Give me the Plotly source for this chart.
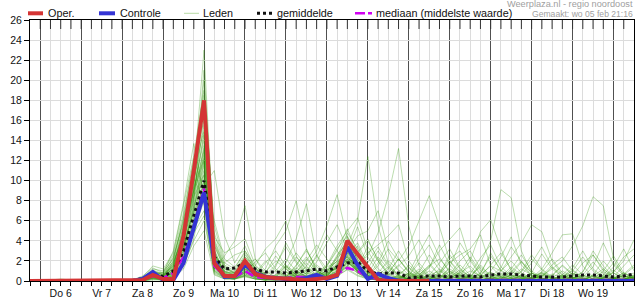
import plotly.graph_objects as go
import pandas as pd

# ---------------- data ----------------
start = pd.Timestamp('2025-02-05 18:00')
times = pd.date_range(start, periods=60, freq='6h')
x_range = ['2025-02-05 18:00', '2025-02-20 12:00']

day_labels = ['Do 6', 'Vr 7', 'Za 8', 'Zo 9', 'Ma 10', 'Di 11', 'Wo 12',
              'Do 13', 'Vr 14', 'Za 15', 'Zo 16', 'Ma 17', 'Di 18', 'Wo 19']
label_times = pd.date_range('2025-02-06 12:00', periods=14, freq='D')
day_lines = pd.date_range('2025-02-06 00:00', periods=15, freq='D')
y_ticks = list(range(0, 27, 2))

oper = [0, 0, 0.1, 0.1, 0.1, 0.1, 0, 0, 0, 0,
        0.05, 0.1, 0.6, 0.2, 0.2, 4.5, 11.0, 18.0, 1.8, 0.5,
        0.5, 2.0, 0.7, 0.4, 0.3, 0.2, 0.2, 0.1, 0.2, 0.3,
        0.6, 4.0, 2.7, 1.4, 0.1, 0, 0, 0, 0, 0]

controle = [0, 0, 0.1, 0.1, 0.1, 0, 0, 0, 0, 0,
            0, 0.2, 0.9, 0.1, 0.1, 1.8, 5.2, 8.8, 2.0, 0.4,
            0.5, 1.6, 0.8, 0.4, 0.3, 0.2, 0.1, 0.3, 0.6, 0.2,
            0.5, 3.4, 1.6, 0.2, 0.7, 0.3, 0, 0, 0, 0,
            0, 0, 0, 0, 0, 0, 0, 0, 0, 0,
            0, 0, 0, 0, 0, 0, 0, 0, 0, 0]

gemiddelde = [0, 0, 0.05, 0.05, 0.05, 0.02, 0, 0, 0, 0,
              0.05, 0.25, 0.65, 0.45, 1.0, 3.0, 6.5, 10.0, 2.4, 1.2,
              1.3, 1.8, 1.2, 0.9, 0.9, 0.8, 0.9, 1.0, 1.2, 1.0,
              1.4, 1.8, 1.9, 1.0, 0.7, 0.8, 0.8, 0.3, 0.4, 0.5,
              0.5, 0.4, 0.5, 0.5, 0.4, 0.6, 0.7, 0.7, 0.6, 0.5,
              0.4, 0.4, 0.4, 0.5, 0.6, 0.6, 0.5, 0.4, 0.5, 0.7]

mediaan = [0, 0, 0, 0, 0, 0, 0, 0, 0, 0,
           0, 0.1, 0.5, 0.3, 0.8, 2.4, 5.5, 9.2, 1.5, 0.5,
           0.4, 1.0, 0.4, 0.3, 0.2, 0.3, 0.4, 0.4, 0.5, 0.3,
           0.7, 1.3, 1.0, 0.4, 0.2, 0.1, 0.1, 0.1, 0.1, 0.1,
           0.1, 0.1, 0.1, 0.1, 0.1, 0.1, 0.1, 0.1, 0.1, 0.1,
           0.1, 0.1, 0.1, 0.1, 0.1, 0.1, 0.1, 0.1, 0.1, 0.1]

leden = [
    [0,0,0,0.1,0,0,0,0,0,0, 0,0.3,0.8,0.5,1.2,3.5,7.2,12.5,2.1,0.8, 0.5,1.2,0.6,0.3,0.2,0.4,1.5,3.2,1.1,0.4,
     0.8,2.5,1.2,0.5,0.3,0.2,0.1,0,0,0.3, 1.2,0.5,0.2,0,0,0.1,0.4,0.2,0,0, 0,0.2,0.6,0.3,0.1,0,0,0.2,0.5,0.3],
    [0,0,0,0,0,0,0,0,0,0, 0,0.1,0.4,0.2,0.8,4.5,10.5,23,3.5,1.2, 0.8,2.2,1.0,0.4,0.2,0.1,0.3,0.5,0.2,0.1,
     0.6,1.8,3.5,1.2,0.4,0.2,0.5,0.1,0,0, 0,0.3,0.8,1.5,0.4,0.1,0,0,0.2,0.1, 0,0,0.3,1.1,0.4,0,0,0.1,0,0],
    [0,0,0,0,0,0,0,0,0,0, 0.1,0.5,1.3,0.8,3.0,7.8,13.7,8.5,1.5,0.6, 0.4,1.0,0.5,0.8,2.5,1.2,0.4,0.2,0.6,1.5,
     3.2,4.5,2.0,0.8,0.3,0.1,0,0,0.2,0.5, 0.2,0,0,0.4,1.6,0.5,0.1,0,0,0.3, 0.8,0.2,0,0,0.1,0.5,1.2,0.4,0.1,0],
    [0,0,0,0,0,0,0,0,0,0, 0,0.1,0.3,0.2,0.4,1.5,4.2,9.5,11.0,4.5, 1.8,3.5,1.2,0.5,0.3,0.2,0.1,0.4,0.9,0.3,
     0.5,1.5,0.8,0.2,0.1,0,0,0.3,0.8,0.2, 0,0,0.1,0.5,0.2,0,0,0.2,0.6,0.3, 0.1,0,0,0,0.2,0.4,0.1,0,0,0.1],
    [0,0,0,0,0,0,0,0,0,0, 0,0.2,0.6,0.4,1.8,5.2,9.0,14.5,1.2,2.5, 4.0,7.5,2.2,0.6,0.3,0.5,0.2,0.1,0.4,0.8,
     1.2,2.8,1.5,0.4,0.1,0,0,0,0.2,0.6, 1.0,0.3,0,0,0,0.2,0.5,0.1,0,0, 0,0.1,0.3,0.8,0.2,0,0,0,0.3,0.2],
    [0,0,0,0,0,0,0,0,0,0, 0,0,0.2,0.1,0.6,2.8,6.5,11.0,2.8,0.5, 0.3,0.6,0.4,1.2,3.5,5.0,8.0,3.2,1.0,0.5,
     1.5,3.8,2.2,0.6,0.2,0.1,0.3,0.8,0.4,0.1, 0,0,0.2,0.6,0.3,0,0,0,0.1,0.4, 0.9,0.3,0.1,0,0,0,0.2,0.1,0,0],
    [0,0,0.1,0.2,0.1,0,0,0,0,0, 0,0.4,1.0,0.6,1.5,3.2,8.2,16.5,4.2,1.5, 0.8,1.5,0.5,0.2,0.6,1.8,4.2,7.7,2.5,0.8,
     0.4,1.8,0.9,0.3,0.1,0,0.2,0.5,1.8,0.6, 0.2,0,0,0,0.1,0.3,0.8,0.3,0.1,0, 0,0.2,0.5,0.2,0,0,0,0.3,0.8,0.4],
    [0,0,0,0,0,0,0,0,0,0, 0,0.1,0.5,0.9,2.2,6.0,11.5,7.5,1.0,0.3, 0.2,0.5,1.5,3.2,4.2,6.0,2.5,1.0,0.3,0.2,
     0.5,2.0,1.2,0.4,0.2,0.1,0,0,0,0.2, 0.6,0.2,0,0,0,0,0.3,1.0,0.3,0, 0,0,0,0.2,0.6,0.2,0,0,0,0.1],
    [0,0,0,0,0,0,0,0,0,0, 0,0,0.3,0.1,0.5,2.0,5.5,8.8,0.8,0.3, 0.2,0.9,0.4,0.2,0.1,0.3,0.6,1.5,3.0,5.5,
     8.6,4.2,1.5,0.5,0.2,0.1,0.3,0.1,0,0, 0.2,0.6,0.2,0,0,0,0,0.2,0.5,0.2, 0,0,0.2,0.4,0.1,0,0,0,0.2,0.6],
    [0,0,0,0,0,0,0,0,0,0, 0,0.2,0.7,0.3,1.0,3.8,8.5,13.0,1.8,0.7, 0.4,1.5,0.7,0.3,0.2,0.1,0.2,0.4,0.6,1.0,
     2.2,3.5,6.0,12.4,5.5,1.8,0.5,0.2,0.1,0, 0,0.2,0.5,0.1,0,0,0,0,0.3,0.8, 0.3,0,0,0,0,0.1,0.3,0.1,0,0],
    [0,0,0,0,0,0,0,0,0,0, 0,0.1,0.4,0.2,0.7,2.5,6.0,10.0,1.4,0.4, 0.3,0.8,0.3,0.1,0,0.2,0.5,0.3,0.1,0.4,
     1.0,2.2,1.8,2.5,4.8,8.5,13.2,5.5,1.5,0.4, 0.2,0.1,0,0,0.3,0.8,0.4,0,0,0, 0.1,0.4,0.2,0,0,0,0,0.2,0.5,0.3],
    [0,0,0,0,0,0,0,0,0,0, 0,0.3,0.9,0.4,1.6,4.8,9.8,15.5,2.4,0.9, 0.6,1.4,0.6,0.3,0.2,0.4,1.0,0.5,0.2,0.6,
     1.8,3.0,1.2,0.5,1.5,3.2,2.0,3.5,6.0,8.5, 5.4,2.0,0.6,0.2,0,0,0.2,0.6,0.2,0, 0,0,0.2,0.8,0.3,0,0,0,0.1,0.2],
    [0,0,0,0,0,0,0,0,0,0, 0,0.2,0.5,0.3,1.1,3.0,7.0,12.0,1.6,0.5, 0.3,1.0,0.5,0.2,0.1,0.2,0.4,0.8,0.5,0.2,
     0.6,1.6,0.8,0.3,0.1,0,0.2,0.6,0.3,0.1, 0.4,1.2,0.6,0.3,1.8,4.0,9.1,8.3,3.0,0.8, 0.3,0.1,0,0,0,0.2,0.5,0.2,0,0],
    [0,0,0,0,0,0,0,0,0,0, 0,0.1,0.3,0.2,0.9,3.3,7.5,10.5,1.1,0.4, 0.3,0.7,0.3,0.1,0.3,0.9,0.4,0.2,0.1,0.3,
     1.1,2.4,1.0,0.4,0.2,0.1,0,0.1,0.3,0.1, 0,0,0.2,0.5,0.2,0,0,0.1,0.4,0.2, 0.5,1.2,2.0,3.5,5.5,8.4,7.5,2.2,0.5,0.2],
    [0,0,0,0,0,0,0,0,0,0, 0,0,0.2,0.1,0.4,1.8,5.0,8.0,1.5,0.3, 0.2,0.6,0.2,0.1,0.4,1.2,2.8,1.5,0.5,0.2,
     0.4,1.2,0.6,0.2,0.1,0,0,0.2,0.6,1.5, 2.2,1.0,0.5,2.0,4.9,6.1,3.2,1.0,0.3,0.1, 0,0,0.1,0.3,0.1,0,0,0,0.2,0.4],
    [0,0,0,0,0,0,0,0,0,0, 0,0.2,0.6,0.5,1.4,4.0,8.0,18.5,2.8,0.9, 0.6,1.8,0.8,0.3,0.2,0.1,0.3,0.6,0.4,0.2,
     0.7,1.9,1.0,0.4,0.2,0.1,0,0,0.1,0.3, 0.1,0,0,0.2,0.6,1.5,1.0,2.4,3.8,5.6, 4.9,2.0,0.6,0.2,0,0,0.1,0.4,0.1,0],
    [0,0,0,0,0,0,0,0,0,0, 0,0.1,0.4,0.3,0.8,2.2,5.2,7.0,0.9,0.3, 0.2,0.8,0.5,0.9,2.0,1.2,0.5,0.2,0.4,1.1,
     2.4,4.0,2.2,0.8,0.3,0.1,0,0,0,0.2, 0.5,0.2,0,0,0,0.2,0.6,0.2,0,0.3, 1.2,2.8,4.6,4.7,1.5,0.4,0.1,0,0.2,0.5],
    [0,0,0,0,0,0,0,0,0,0, 0,0.3,1.1,0.7,2.0,5.5,10.0,17.0,3.0,1.0, 0.7,2.0,0.9,0.4,0.2,0.3,0.8,0.4,0.2,0.5,
     1.4,3.0,4.5,5.0,7.0,3.0,1.0,0.3,0.1,0, 0,0.3,0.8,0.3,0,0,0,0.2,0.5,0.1, 0,0,0.1,0.4,0.2,0,0.3,0.9,2.0,4.1],
    [0,0,0,0,0,0,0,0,0,0, 0,0.1,0.2,0.1,0.6,2.0,4.8,6.5,0.7,0.2, 0.2,0.5,0.2,0.1,0.4,1.5,0.6,0.3,0.8,1.6,
     3.5,5.0,6.3,3.0,1.2,0.5,1.5,2.5,4.1,1.8, 0.6,0.2,0,0,0.1,0.3,0.1,0,0,0.2, 0.6,0.3,0,0,0,0.2,0.6,0.3,0.1,0],
    [0,0,0,0,0,0,0,0,0,0, 0,0.2,0.8,0.6,1.9,4.4,9.2,14.0,2.2,0.6, 0.4,1.2,0.6,0.3,0.5,0.9,0.4,0.2,0.1,0.4,
     1.0,2.6,1.4,0.5,0.2,0.1,0.4,0.2,0.5,1.4, 3.0,4.2,5.3,2.0,0.6,0.2,0,0,0.2,0.6, 0.2,0,0,0.2,0.5,0.2,0,0,0,0.1],
    [0,0,0,0,0,0,0,0,0,0, 0,0.1,0.5,0.2,1.0,3.6,6.8,9.0,1.3,0.4, 0.3,1.1,0.4,0.2,0.1,0.3,0.6,1.4,0.6,0.3,
     0.9,2.0,1.6,2.8,3.6,4.5,5.6,2.0,0.6,0.2, 0.8,1.8,2.6,3.2,4.6,1.5,0.4,0.1,0,0.3, 0.8,0.3,0,0,0,0.1,0.4,0.2,0,0.2],
    [0,0,0,0,0,0,0,0,0,0, 0,0.1,0.3,0.2,0.7,2.7,6.2,11.5,1.9,0.7, 0.5,1.6,0.5,0.2,0.1,0.1,0.2,0.3,0.5,1.5,
     3.0,5.2,2.8,1.0,0.3,0.1,0,0.1,0.3,0.1, 0,0,0,0.1,0.4,0.9,0.3,0,0,0, 0.2,0.7,0.3,0,0,0,0.3,0.8,0.3,0],
    [0,0,0,0,0,0,0,0,0,0, 0,0.2,0.6,0.4,1.3,4.2,9.5,20.0,4.8,1.6, 1.0,2.6,1.3,0.5,0.2,0.4,1.2,2.4,1.0,0.4,
     1.2,2.2,0.9,0.3,0.1,0,0.3,0.7,0.3,0.1, 0,0.2,0.6,0.2,0,0,0.1,0.3,0.9,2.2, 1.1,0.3,0,0,0.1,0.5,0.2,0,0,0],
    [0,0,0,0,0,0,0,0,0,0, 0,0.1,0.4,0.3,0.9,2.4,5.8,9.8,6.0,2.2, 1.4,2.8,1.0,0.4,0.2,0.1,0.2,0.6,1.6,0.8,
     1.3,3.3,1.4,0.4,0.2,0.8,2.2,1.0,0.3,0.1, 0,0.4,1.1,0.4,0.1,0,0,0,0.1,0.4, 0.2,0,0,0.3,0.9,3.0,1.5,0.4,0.1,0.6],
    [0,0,0,0,0,0,0,0,0,0, 0,0.3,1.2,1.0,2.6,6.8,12.0,16.0,2.0,0.6, 0.3,1.3,0.7,0.3,1.0,2.2,1.0,0.4,0.2,0.3,
     0.7,1.5,2.8,4.0,2.2,0.8,0.3,0.1,0,0.2, 0.7,2.6,1.2,0.3,0,0,0.2,0.6,0.3,0.1, 0,0.3,1.0,0.4,0,0,0.1,0.2,0.6,1.4],
    [0,0,0,0,0,0,0,0,0,0, 0,0.2,0.6,0.3,1.1,3.1,7.8,13.5,3.2,0.6, 0.4,0.9,0.3,0.2,0.4,0.2,0.1,0.3,0.6,0.9,
     2.0,2.8,0.8,0.2,0.1,0,0,0.4,1.2,0.5, 0.1,0,0,0.2,0.7,2.8,1.0,0.3,0,0, 0,0.2,0.5,0.1,0,0.2,1.0,2.5,0.8,0.2],
    [0,0,0,0,0,0,0,0,0,0, 0,0.1,0.3,0.2,0.5,1.6,4.0,6.0,1.0,0.4, 0.3,0.5,0.2,0.1,0.2,0.5,1.0,0.4,0.1,0.2,
     0.6,1.1,0.5,0.2,0.1,0.6,1.6,0.6,0.2,0, 0,0.1,0.3,0.1,0,0.4,1.3,3.4,2.0,0.5, 0.2,0,0,0,0.2,0.6,0.2,0,0,0.3],
    [0,0,0,0,0,0,0,0,0,0, 0,0.2,0.7,0.5,1.5,5.0,9.0,12.0,1.2,0.4, 0.3,1.0,0.6,1.8,3.0,1.5,0.6,0.3,0.2,0.5,
     1.6,2.4,1.2,0.6,0.2,0.1,0,0,0.4,1.0, 0.4,0.1,0,0,0,0.3,0.1,0,0,0.2, 0.7,0.2,0,0,0,0,0.3,1.4,3.2,1.0],
    [0,0,0,0,0,0,0,0,0,0, 0,0,0.1,0.1,0.3,1.2,3.5,5.0,0.6,0.2, 0.2,0.4,0.2,0.1,0.1,0.2,0.4,0.2,0.3,0.7,
     1.3,2.0,1.0,0.5,0.2,0.1,0.2,0.1,0,0, 0.3,0.9,0.3,0,0,0,0,0.1,0.3,0.1, 0,0,0,0.1,0.3,0.1,0,0,0,0],
    [0,0,0,0,0,0,0,0,0,0, 0,0.4,1.5,1.2,2.8,7.5,12.5,19.0,5.5,1.8, 1.2,3.0,1.5,0.6,0.3,0.2,0.5,1.1,0.5,0.3,
     0.8,1.9,1.0,0.4,0.6,1.4,0.6,0.2,0.1,0, 0,0,0.4,1.0,0.5,0.1,0,0,0,0.2, 0.5,0.2,0,0,0,0,0,0.2,0.6,0.2],
    [0,0,0,0,0,0,0,0,0,0, 0,0.2,0.5,0.4,1.2,3.4,7.0,11.8,2.6,1.0, 0.6,1.4,2.2,1.0,0.4,0.3,0.9,2.0,3.6,2.2,
     1.0,2.6,3.8,1.6,0.5,0.2,0.6,1.4,0.5,0.2, 0.9,2.2,3.0,1.2,0.4,0.1,0,0.4,1.2,0.6, 0.2,0.5,1.6,0.7,0.2,0,0.4,1.1,0.3,0.1],
    [0,0,0,0,0,0,0,0,0,0, 0,0.1,0.6,0.5,1.7,4.6,8.8,13.2,3.8,1.3, 0.9,2.4,1.1,0.6,1.6,3.4,1.8,0.6,0.3,0.8,
     2.6,3.9,1.8,0.7,2.4,1.2,0.4,0.2,0.9,2.6, 1.1,0.3,0.9,2.4,1.0,0.3,0.1,0.6,1.9,0.8, 0.3,0.1,0,0.5,1.8,2.6,1.0,0.3,0.1,0.4],
    [0,0,0,0,0,0,0,0,0,0, 0,0.2,0.9,0.8,2.4,5.8,10.8,15.0,2.9,0.8, 0.5,1.7,0.7,0.4,0.3,0.6,1.3,0.7,1.9,3.8,
     5.6,3.1,1.0,0.3,0.8,2.0,1.1,0.5,2.2,3.6, 1.5,0.5,0.2,0.7,2.3,3.6,1.4,0.5,0.2,0.8, 2.7,1.2,0.4,0.1,0,0.6,2.0,0.8,0.2,0.3],
    [0,0,0,0,0,0,0,0,0,0, 0,0.1,0.4,0.6,2.0,6.4,12.2,9.0,1.4,0.6, 0.4,0.8,1.9,2.8,1.2,0.5,0.3,0.8,2.6,1.2,
     0.6,1.4,2.9,4.2,2.0,0.6,0.2,0.8,2.8,4.6, 2.4,0.8,0.3,0.1,0.5,1.6,2.8,1.2,0.4,0.2, 0.9,2.2,0.8,0.3,0.6,1.9,0.7,0.2,0.1,0.5],
    [0,0,0,0,0,0,0,0,0,0, 0,0.2,0.7,0.4,1.0,3.0,7.4,12.8,4.4,2.8, 3.4,4.2,1.6,0.6,0.3,0.2,0.7,1.8,0.9,0.4,
     1.6,3.6,2.4,1.2,3.0,1.4,0.5,0.2,0.1,0.6, 1.8,3.2,1.3,0.4,0.1,0.3,1.0,2.0,0.8,0.3, 0.1,0.6,1.5,0.6,0.2,0,0.2,0.9,2.4,3.2],
    [0,0,0,0,0,0,0,0,0,0, 0,0.1,0.3,0.3,1.4,4.0,9.4,12.2,1.9,0.5, 0.3,1.2,0.8,2.0,1.0,0.4,1.6,3.0,1.4,0.6,
     1.4,2.8,5.4,2.4,0.9,0.3,0.1,0.3,1.0,0.4, 0.2,1.4,3.8,2.2,0.7,0.2,0.1,0,0.6,1.8, 3.4,1.4,0.4,0.1,0,0.3,0.9,0.3,0.1,0],
    [0,0,0,0,0,0,0,0,0,0, 0,0.3,1.0,0.6,1.6,4.2,8.4,10.6,2.3,0.9, 0.8,2.4,1.3,0.5,0.2,0.8,2.4,1.2,0.4,1.0,
     2.0,4.4,2.6,0.8,0.3,0.1,0.5,1.6,0.7,0.2, 0,0.5,1.6,0.6,0.2,1.0,2.4,4.4,1.6,0.5, 0.2,0.1,0.6,1.6,0.6,0.2,0,0.3,0.8,0.3],
    [0,0,0,0,0,0,0,0,0,0, 0,0.2,0.5,0.3,0.8,3.6,9.0,21.0,4.0,1.4, 0.7,2.0,1.0,0.4,0.6,1.6,0.8,0.3,0.1,0.5,
     1.7,2.0,0.9,1.8,3.4,1.6,0.6,0.2,0.6,1.6, 0.6,0.2,0.1,0.5,1.4,0.5,0.2,1.2,2.6,1.0, 0.3,0.1,0.4,1.3,3.0,1.2,0.4,0.1,0,0.4],
    [0,0,0,0,0,0,0,0,0,0, 0,0.1,0.4,0.4,1.3,5.6,10.2,8.0,2.2,1.8, 2.6,3.0,1.2,0.5,0.2,0.1,0.4,1.0,2.4,4.6,
     3.0,1.8,1.2,0.6,0.3,1.2,3.0,1.3,0.4,0.1, 0.3,1.0,0.4,0.1,0,0.2,0.7,0.3,1.0,2.6, 1.2,0.4,0.1,0,0.4,1.4,3.8,1.6,0.5,0.2],
    [0,0,0,0,0,0,0,0,0,0, 0,0.2,0.6,0.5,1.8,4.8,8.6,14.8,3.6,1.2, 0.8,1.9,0.9,0.4,1.4,3.8,2.0,0.8,0.3,0.2,
     0.9,2.2,1.1,0.5,1.8,4.0,2.2,0.8,0.3,0.1, 0.6,2.0,0.9,0.3,0.1,0,0.4,1.4,0.6,0.2, 0.5,1.6,2.4,1.0,0.3,0.1,0.6,1.8,0.7,1.6],
    [0,0,0,0,0,0,0,0,0,0, 0,0.1,0.5,0.2,0.6,2.2,5.8,10.2,1.7,0.6, 0.5,1.2,0.5,0.2,0.5,1.4,0.6,0.2,0.5,1.4,
     1.9,2.4,1.4,3.4,2.0,0.7,0.2,0.1,0.4,1.3, 3.6,1.6,0.5,0.2,0.8,2.5,1.1,0.4,0.1,0, 0.4,1.4,0.6,0.2,0.9,2.6,1.2,0.4,1.5,2.6],
    [0,0,0,0,0,0,0,0,0,0, 0,0.3,0.8,0.7,2.3,6.2,11.2,17.5,2.6,0.7, 0.4,1.7,0.8,0.3,0.2,0.3,0.8,2.2,1.0,0.6,
     2.4,4.8,3.2,1.1,0.4,0.8,2.2,0.9,0.3,0.1, 0,0.6,2.0,3.0,1.2,0.4,0.2,0.9,2.0,0.8, 0.2,0,0.4,1.0,2.4,1.0,0.3,0.1,0.3,0.8],
]

for s in [controle, gemiddelde, mediaan] + leden:
    assert len(s) == 60, len(s)
assert len(oper) == 40

# ---------------- styles ----------------
C_OPER = '#d43434'
C_CTRL = '#3434d4'
C_LEDEN = 'rgba(50,150,10,0.33)'
C_MEAN = '#111111'
C_MED = '#d000f0'
GRID = '#dcdcdc'
FONT = 'Liberation Sans, Arial, sans-serif'

fig = go.Figure()
for m in leden:
    fig.add_trace(go.Scatter(x=times, y=m, mode='lines', line=dict(color=C_LEDEN, width=1),
                             showlegend=False, hoverinfo='skip'))
fig.add_trace(go.Scatter(x=times, y=mediaan, mode='lines',
                         line=dict(color=C_MED, width=2.5, dash='9px,4px'), showlegend=False))
fig.add_trace(go.Scatter(x=times, y=gemiddelde, mode='lines',
                         line=dict(color=C_MEAN, width=3, dash='dot'), showlegend=False))
fig.add_trace(go.Scatter(x=times, y=controle, mode='lines',
                         line=dict(color=C_CTRL, width=4), showlegend=False))
fig.add_trace(go.Scatter(x=times[:len(oper)], y=oper, mode='lines',
                         line=dict(color=C_OPER, width=4), showlegend=False))
# empty trace that only activates the overlaid label axis
fig.add_trace(go.Scatter(x=[], y=[], xaxis='x2', showlegend=False, hoverinfo='skip'))

# plot area geometry (pixels)
L, R, T, B = 30, 1, 20, 19
W, H = 635, 300
PW, PH = W - L - R, H - T - B


def px(xp):
    return (xp - L) / PW


def py(yp):
    return (H - B - yp) / PH


shapes = []
# top inside ticks every 6 hours
for t in pd.date_range('2025-02-06 00:00', '2025-02-20 06:00', freq='6h'):
    shapes.append(dict(type='line', xref='x', yref='paper', ysizemode='pixel', yanchor=1,
                       x0=t, x1=t, y0=0, y1=-9, line=dict(color='#333333', width=1), layer='above'))

# legend (manual)
leg_y = 13.3
legend_items = [
    (28, 43, 47, 'Oper.', dict(color=C_OPER, width=4)),
    (99, 115, 118.5, 'Controle', dict(color=C_CTRL, width=4)),
    (184, 199, 202, 'Leden', dict(color='#b8dba6', width=1)),
    (257, 272, 275.5, 'gemiddelde', dict(color=C_MEAN, width=3, dash='dot')),
    (355, 372, 374.5, 'mediaan (middelste waarde)', dict(color=C_MED, width=2.5, dash='10px,3px')),
]
annotations = []
for x0, x1, xt, txt, ln in legend_items:
    shapes.append(dict(type='line', xref='paper', yref='paper', x0=px(x0), x1=px(x1),
                       y0=py(leg_y), y1=py(leg_y), line=ln))
    annotations.append(dict(xref='paper', yref='paper', x=px(xt - 1), y=py(leg_y), text=txt,
                            showarrow=False, xanchor='left', yanchor='middle',
                            font=dict(family=FONT, size=10.8, color='#111111')))

annotations.append(dict(xref='paper', yref='paper', x=px(635), y=py(4.2),
                        text='Weerplaza.nl - regio noordoost', showarrow=False,
                        xanchor='right', yanchor='middle',
                        font=dict(family=FONT, size=9.2, color='#a0a0a0')))
annotations.append(dict(xref='paper', yref='paper', x=px(635), y=py(14),
                        text='Gemaakt: wo 05 feb 21:16', showarrow=False,
                        xanchor='right', yanchor='middle',
                        font=dict(family=FONT, size=8.6, color='#a0a0a0')))

fig.update_layout(
    width=W, height=H,
    margin=dict(l=L, r=R, t=T, b=B, pad=0),
    paper_bgcolor='white', plot_bgcolor='white',
    showlegend=False,
    font=dict(family=FONT, size=10.5, color='#111111'),
    xaxis=dict(
        type='date', range=x_range,
        tickmode='array', tickvals=day_lines, showticklabels=False,
        showgrid=True, gridcolor='#505050', gridwidth=1,
        ticks='outside', ticklen=4, tickcolor='#000000', tickwidth=1,
        showline=True, linecolor='#000000', linewidth=1, mirror=True,
        zeroline=False,
        minor=dict(tickmode='linear', tick0='2025-02-06 00:00', dtick=6 * 3600 * 1000,
                   showgrid=True, gridcolor=GRID, gridwidth=1,
                   ticks='outside', ticklen=4, tickcolor='#000000', tickwidth=1),
    ),
    xaxis2=dict(
        type='date', range=x_range, overlaying='x', anchor='y', side='bottom',
        tickmode='array', tickvals=label_times, ticktext=day_labels,
        showgrid=False, ticks='', showline=False, zeroline=False,
        ticklabelstandoff=4,
        tickfont=dict(family=FONT, size=10.5, color='#111111'),
    ),
    yaxis=dict(
        range=[0, 26], tickmode='array', tickvals=y_ticks,
        showgrid=True, gridcolor=GRID, gridwidth=1,
        ticks='outside', ticklen=5, tickcolor='#000000', tickwidth=1,
        showline=True, linecolor='#000000', linewidth=1, mirror=True,
        zeroline=False, tickfont=dict(family=FONT, size=10.5, color='#111111'),
    ),
    shapes=shapes,
    annotations=annotations,
)

fig.write_html('out.html')
